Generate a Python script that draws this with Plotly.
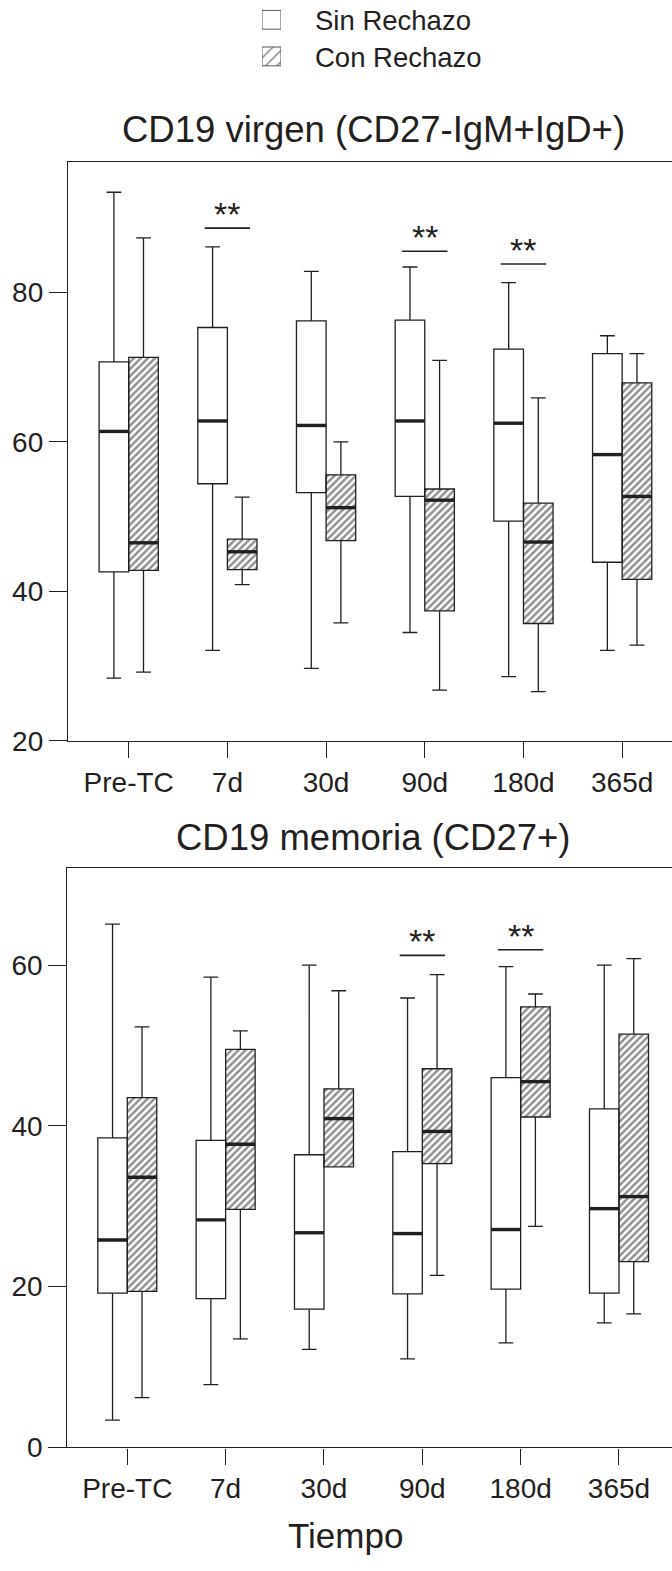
import plotly.graph_objects as go

categories = ["Pre-TC", "7d", "30d", "90d", "180d", "365d"]
groups = ["Sin Rechazo", "Con Rechazo"]

# Panel 1: CD19 virgen (CD27-IgM+IgD+)
virgen_sin_low = [28.4, 32.1, 29.7, 34.5, 28.6, 32.1]
virgen_sin_q1 = [42.6, 54.4, 53.2, 52.7, 49.4, 43.9]
virgen_sin_med = [61.4, 62.8, 62.2, 62.8, 62.5, 58.3]
virgen_sin_q3 = [70.7, 75.3, 76.2, 76.3, 72.4, 71.8]
virgen_sin_high = [93.4, 86.1, 82.8, 83.4, 81.3, 74.2]

virgen_con_low = [29.2, 40.9, 35.8, 26.8, 26.6, 32.8]
virgen_con_q1 = [42.8, 42.9, 46.8, 37.4, 35.7, 41.6]
virgen_con_med = [46.5, 45.3, 51.2, 52.2, 46.6, 52.7]
virgen_con_q3 = [71.3, 47.0, 55.6, 53.7, 51.8, 67.9]
virgen_con_high = [87.3, 52.6, 60.0, 70.9, 65.9, 71.8]

virgen_sig = ["7d", "90d", "180d"]
virgen_sig_y = [88.6, 85.5, 83.8]

# Panel 2: CD19 memoria (CD27+)
memoria_sin_low = [3.4, 7.8, 12.2, 11.0, 13.0, 15.5]
memoria_sin_q1 = [19.2, 18.5, 17.2, 19.1, 19.7, 19.2]
memoria_sin_med = [25.8, 28.3, 26.7, 26.6, 27.1, 29.7]
memoria_sin_q3 = [38.5, 38.2, 36.4, 36.8, 46.0, 42.1]
memoria_sin_high = [65.1, 58.5, 60.0, 55.9, 59.8, 60.0]

memoria_con_low = [6.2, 13.5, 34.9, 21.4, 27.5, 16.6]
memoria_con_q1 = [19.4, 29.6, 34.9, 35.3, 41.1, 23.1]
memoria_con_med = [33.6, 37.7, 40.9, 39.3, 45.5, 31.2]
memoria_con_q3 = [43.5, 49.5, 44.6, 47.1, 54.8, 51.4]
memoria_con_high = [52.3, 51.8, 56.8, 58.8, 56.4, 60.8]

memoria_sig = ["90d", "180d"]
memoria_sig_y = [61.2, 61.9]

titles = ["CD19 virgen (CD27-IgM+IgD+)", "CD19 memoria (CD27+)"]
x_title = "Tiempo"

# ---------------- styling ----------------
INK = "#231f20"
FONT = "Liberation Sans, Arial, sans-serif"
W, H = 672, 1571
OFF = 0.15      # half distance between paired boxes
BW = 0.30       # box width (data units)
SIGW = 0.23     # half width of significance bar
HATCH = dict(shape="/", fgcolor=INK, bgcolor="white", size=5, solidity=0.5)

fig = go.Figure()
annotations = []


def add_panel(xa, ya, sin, con, sig_cats, sig_y):
    idx = list(range(len(categories)))
    x_sin = [i - OFF for i in idx]
    x_con = [i + OFF for i in idx]
    s_low, s_q1, s_med, s_q3, s_high = sin
    c_low, c_q1, c_med, c_q3, c_high = con
    # hatched fill for "Con Rechazo" (drawn first, under the box outlines)
    fig.add_trace(go.Bar(
        x=x_con, base=c_q1, y=[b - a for a, b in zip(c_q1, c_q3)], width=BW,
        marker=dict(color="white", line=dict(width=0), pattern=HATCH),
        xaxis=xa, yaxis=ya, hoverinfo="skip", showlegend=False))
    # boxes
    for xs, (lo, q1, med, q3, hi), fill, name in [
        (x_sin, sin, "white", groups[0]),
        (x_con, con, "rgba(0,0,0,0)", groups[1]),
    ]:
        fig.add_trace(go.Box(
            x=xs, q1=q1, median=med, q3=q3, lowerfence=lo, upperfence=hi,
            width=BW, whiskerwidth=0.5, fillcolor=fill, boxpoints=False,
            line=dict(color=INK, width=1.3), name=name,
            xaxis=xa, yaxis=ya, hoverinfo="skip", showlegend=False))
    # thick median lines
    mx, my = [], []
    for xs, meds in [(x_sin, s_med), (x_con, c_med)]:
        for xc, m in zip(xs, meds):
            mx += [xc - BW / 2, xc + BW / 2, None]
            my += [m, m, None]
    fig.add_trace(go.Scatter(x=mx, y=my, mode="lines",
                             line=dict(color=INK, width=3.4),
                             xaxis=xa, yaxis=ya, hoverinfo="skip",
                             showlegend=False))
    # significance bars
    sx, sy = [], []
    for c, v in zip(sig_cats, sig_y):
        i = categories.index(c)
        sx += [i - SIGW, i + SIGW, None]
        sy += [v, v, None]
        annotations.append(dict(
            x=i, y=v, xref=xa, yref=ya, text="**", showarrow=False,
            yanchor="middle", yshift=14,
            font=dict(family=FONT, size=34, color=INK)))
    fig.add_trace(go.Scatter(x=sx, y=sy, mode="lines",
                             line=dict(color=INK, width=1.6),
                             xaxis=xa, yaxis=ya, hoverinfo="skip",
                             showlegend=False))


add_panel("x", "y",
          (virgen_sin_low, virgen_sin_q1, virgen_sin_med, virgen_sin_q3, virgen_sin_high),
          (virgen_con_low, virgen_con_q1, virgen_con_med, virgen_con_q3, virgen_con_high),
          virgen_sig, virgen_sig_y)
add_panel("x2", "y2",
          (memoria_sin_low, memoria_sin_q1, memoria_sin_med, memoria_sin_q3, memoria_sin_high),
          (memoria_con_low, memoria_con_q1, memoria_con_med, memoria_con_q3, memoria_con_high),
          memoria_sig, memoria_sig_y)

# legend swatches drawn on a small hidden axis pair
fig.add_trace(go.Bar(
    y=[0, 1], x=[1, 1], base=[0, 0], orientation="h", width=19 / 37,
    marker=dict(color="white", line=dict(color="#555555", width=1),
                pattern=dict(shape=["", "/"], fgcolor=INK, bgcolor="white",
                             size=8, solidity=0.2)),
    xaxis="x3", yaxis="y3", hoverinfo="skip", showlegend=False,
    cliponaxis=False))
for k, g in enumerate(groups):
    annotations.append(dict(
        x=313 / W, y=1 - (21 + 37 * k) / H, xref="paper", yref="paper",
        text=g, showarrow=False, xanchor="left", yanchor="middle",
        font=dict(family=FONT, size=27.5, color=INK)))

# panel titles and axis title
for t, ypx in zip(titles, [131, 846]):
    annotations.append(dict(
        x=373 / W, y=1 - ypx / H, xref="paper", yref="paper", text=t,
        showarrow=False, xanchor="center", yanchor="middle",
        font=dict(family=FONT, size=36.5, color=INK)))
annotations.append(dict(
    x=346 / W, y=1 - 1551 / H, xref="paper", yref="paper", text=x_title,
    showarrow=False, xanchor="center", yanchor="middle",
    font=dict(family=FONT, size=35, color=INK)))

tick_font = dict(family=FONT, size=28, color=INK)
xcommon = dict(tickvals=list(range(len(categories))), ticktext=categories,
               ticks="outside", ticklen=16, tickwidth=1.3, tickcolor=INK,
               showline=True, linecolor=INK, linewidth=1.3, mirror=True,
               showgrid=False, zeroline=False, tickfont=tick_font,
               fixedrange=True)
ycommon = dict(ticks="outside", ticklen=18, tickwidth=1.3, tickcolor=INK,
               showline=True, linecolor=INK, linewidth=1.3, mirror=False,
               showgrid=False, zeroline=False, tickfont=tick_font,
               fixedrange=True)

fig.update_layout(
    width=W, height=H, margin=dict(l=0, r=0, t=0, b=0),
    paper_bgcolor="white", plot_bgcolor="white",
    showlegend=False, boxmode="overlay", barmode="overlay",
    font=dict(family=FONT, color=INK),
    xaxis=dict(domain=[68 / W, 1], range=[-0.615, 5.505], anchor="y", **xcommon),
    yaxis=dict(domain=[1 - 748.5 / H, 1 - 164 / H], range=[20, 97.4],
               tickvals=[20, 40, 60, 80], anchor="x", **ycommon),
    xaxis2=dict(domain=[67.3 / W, 1], range=[-0.61, 5.539], anchor="y2", **xcommon),
    yaxis2=dict(domain=[1 - 1462.3 / H, 1 - 876.7 / H], range=[0, 72.1],
                tickvals=[0, 20, 40, 60], anchor="x2", **ycommon),
    xaxis3=dict(domain=[262 / W, 281 / W], range=[0, 1], visible=False,
                anchor="y3", fixedrange=True),
    yaxis3=dict(domain=[1 - 75.5 / H, 1 - 1.5 / H], range=[1.5, -0.5],
                visible=False, anchor="x3", fixedrange=True),
    annotations=annotations,
)

fig.write_html("out.html")
